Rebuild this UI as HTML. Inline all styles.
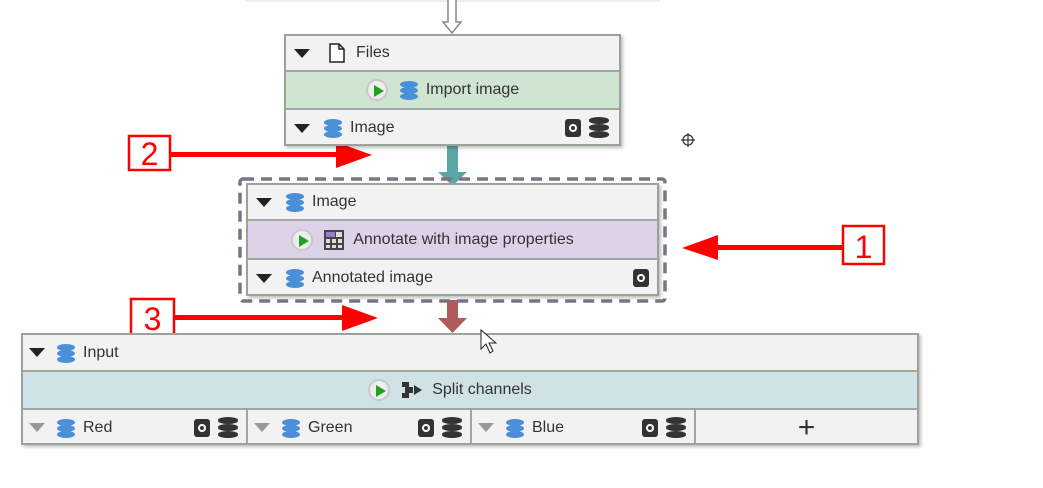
<!DOCTYPE html>
<html><head><meta charset="utf-8">
<style>
*{margin:0;padding:0;box-sizing:border-box}
body{width:1043px;height:488px;background:#fff;position:relative;overflow:hidden;font-family:"Liberation Sans",sans-serif;font-size:16px;color:#333}
.node{position:absolute;border:2px solid #9aa29a;background:#f2f2f2;box-shadow:2px 2px 3px rgba(0,0,0,.25)}
.row{position:absolute;left:0;right:0;display:flex;align-items:center;border-bottom:2px solid #a0a6a0}
.row:last-child{border-bottom:none}
.tri{width:0;height:0;border-left:8px solid transparent;border-right:8px solid transparent;border-top:9px solid #222;margin:0 12px 0 8px}
.tri.g{border-top-color:#999}
.lay{width:22px;height:20px;margin-right:6px;position:relative}
.lay i{position:absolute;left:2px;width:18px;height:7px;border-radius:50%;background:#4a90d9}
.play{width:22px;height:22px;border-radius:50%;border:2px solid #c8c8c8;background:#eee;position:relative;margin-right:10px}
.play:after{content:"";position:absolute;left:6px;top:4px;border-left:10px solid #22a022;border-top:6px solid transparent;border-bottom:6px solid transparent}
.sq{width:16px;height:18px;background:#333;border-radius:3px;position:relative;margin-right:8px}
.sq:after{content:"";position:absolute;left:4px;top:5px;width:8px;height:8px;border-radius:50%;border:2px solid #fff;box-sizing:border-box}
.db{width:20px;height:22px;position:relative}
.db i{position:absolute;left:0;width:20px;height:7px;border-radius:50%/45%;background:#333}
.cell{position:absolute;top:0;bottom:0;display:flex;align-items:center;border-right:2px solid #a0a6a0}
</style></head><body>
<div style="position:absolute;left:245px;top:0;width:415px;height:2px;background:#eee"></div>

<svg width="1043" height="488" style="position:absolute;left:0;top:0">
 <path d="M448 0 V22 H443 L452 33 L461 22 H456 V0" fill="#fff" stroke="#888" stroke-width="1.5"/>
 <rect x="447" y="145" width="11" height="33" fill="#5aa6a6"/>
 <path d="M438 172 H467 L452.5 186 Z" fill="#5aa6a6"/>
 <rect x="447" y="300" width="11" height="24" fill="#b05a5a"/>
 <path d="M438 318 H467 L452.5 333 Z" fill="#b05a5a"/>
 <rect x="240" y="179" width="425" height="122" rx="3" fill="none" stroke="#7a7485" stroke-width="3.5" stroke-dasharray="11,7"/>
 <circle cx="688" cy="140" r="5" fill="none" stroke="#333" stroke-width="1.2"/>
 <path d="M681 140 H695 M688 133 V147" stroke="#333" stroke-width="1.2"/>
 <rect x="129" y="136" width="41" height="34" fill="#fff" stroke="#f00" stroke-width="2.5"/>
 <text x="149.5" y="165" font-size="32" fill="#f00" text-anchor="middle" font-family="Liberation Sans">2</text>
 <rect x="171" y="152" width="168" height="5" fill="#f00"/>
 <path d="M336 142 L372 155 L336 168 Z" fill="#f00"/>
 <rect x="843" y="226" width="41" height="38" fill="#fff" stroke="#f00" stroke-width="2.5"/>
 <text x="863.5" y="258" font-size="32" fill="#f00" text-anchor="middle" font-family="Liberation Sans">1</text>
 <rect x="714" y="245" width="129" height="5" fill="#f00"/>
 <path d="M718 235 L682 248 L718 260 Z" fill="#f00"/>
 <rect x="131" y="299" width="43" height="36" fill="#fff" stroke="#f00" stroke-width="2.5"/>
 <text x="152.5" y="330" font-size="32" fill="#f00" text-anchor="middle" font-family="Liberation Sans">3</text>
 <rect x="175" y="315" width="170" height="5" fill="#f00"/>
 <path d="M342 305 L378 318 L342 331 Z" fill="#f00"/>
</svg>

<div class="node" style="left:284px;top:34px;width:337px;height:112px">
 <div class="row" style="top:0;height:36px"><div class="tri"></div>
  <svg width="18" height="20" style="margin:0 10px 0 6px"><path d="M2 1 H11 L16 6 V19 H2 Z M11 1 V6 H16" fill="#fff" stroke="#222" stroke-width="1.5"/></svg>Files</div>
 <div class="row" style="top:36px;height:38px;background:#cfe5d2;justify-content:center;padding-right:20px"><div class="play"></div><div class="lay"><i style="top:1px"></i><i style="top:7px"></i><i style="top:13px"></i></div>Import image</div>
 <div class="row" style="top:74px;height:36px"><div class="tri"></div><div class="lay"><i style="top:1px"></i><i style="top:7px"></i><i style="top:13px"></i></div>Image<div style="flex:1"></div><div class="sq"></div><div class="db" style="margin-right:10px"><i style="top:0"></i><i style="top:7px"></i><i style="top:14px"></i></div></div>
</div>

<div class="node" style="left:246px;top:183px;width:413px;height:113px">
 <div class="row" style="top:0;height:36px"><div class="tri"></div><div class="lay"><i style="top:1px"></i><i style="top:7px"></i><i style="top:13px"></i></div>Image</div>
 <div class="row" style="top:36px;height:39px;background:#ddd2e7;justify-content:center;padding-right:40px"><div class="play"></div>
  <svg width="22" height="22" style="margin-right:8px"><rect x="1" y="1" width="20" height="20" fill="#444"/><rect x="3" y="3" width="9" height="5" fill="#9a7ad6"/><rect x="13" y="3" width="6" height="5" fill="#ddd"/><rect x="3" y="10" width="4" height="4" fill="#ddd"/><rect x="9" y="10" width="4" height="4" fill="#ddd"/><rect x="15" y="10" width="4" height="4" fill="#ddd"/><rect x="3" y="16" width="4" height="3" fill="#ddd"/><rect x="9" y="16" width="4" height="3" fill="#ddd"/><rect x="15" y="16" width="4" height="3" fill="#ddd"/></svg>Annotate with image properties</div>
 <div class="row" style="top:75px;height:36px"><div class="tri"></div><div class="lay"><i style="top:1px"></i><i style="top:7px"></i><i style="top:13px"></i></div>Annotated image<div style="flex:1"></div><div class="sq"></div></div>
</div>

<div class="node" style="left:21px;top:333px;width:898px;height:112px">
 <div class="row" style="top:0;height:37px"><div class="tri" style="margin:0 10px 0 6px"></div><div class="lay"><i style="top:1px"></i><i style="top:7px"></i><i style="top:13px"></i></div>Input</div>
 <div class="row" style="top:37px;height:38px;background:#cfe2e6;justify-content:center;padding-right:40px"><div class="play"></div>
  <svg width="24" height="20" style="margin-right:8px"><path d="M2 2 H9 V7 H13 V13 H9 V18 H2 V13 H5 V7 H2 Z" fill="#333"/><path d="M14 5 L22 10 L14 15 Z" fill="#333"/></svg>Split channels</div>
 <div class="row" style="top:75px;height:35px">
  <div class="cell" style="left:0;width:225px"><div class="tri g" style="margin:0 10px 0 6px"></div><div class="lay"><i style="top:1px"></i><i style="top:7px"></i><i style="top:13px"></i></div>Red<div style="flex:1"></div><div class="sq"></div><div class="db" style="margin-right:8px"><i style="top:0"></i><i style="top:7px"></i><i style="top:14px"></i></div></div>
  <div class="cell" style="left:225px;width:224px"><div class="tri g" style="margin:0 10px 0 6px"></div><div class="lay"><i style="top:1px"></i><i style="top:7px"></i><i style="top:13px"></i></div>Green<div style="flex:1"></div><div class="sq"></div><div class="db" style="margin-right:8px"><i style="top:0"></i><i style="top:7px"></i><i style="top:14px"></i></div></div>
  <div class="cell" style="left:449px;width:224px"><div class="tri g" style="margin:0 10px 0 6px"></div><div class="lay"><i style="top:1px"></i><i style="top:7px"></i><i style="top:13px"></i></div>Blue<div style="flex:1"></div><div class="sq"></div><div class="db" style="margin-right:8px"><i style="top:0"></i><i style="top:7px"></i><i style="top:14px"></i></div></div>
  <div class="cell" style="left:673px;right:0;border-right:none;justify-content:center;font-size:30px;font-weight:300;color:#333">+</div>
 </div>
</div>

<svg width="1043" height="488" style="position:absolute;left:0;top:0;pointer-events:none">
 <path d="M481 330 V349 L486 344 L490 353 L493 351 L489 343 H496 Z" fill="#fff" stroke="#222" stroke-width="1"/>
</svg>
</body></html>
